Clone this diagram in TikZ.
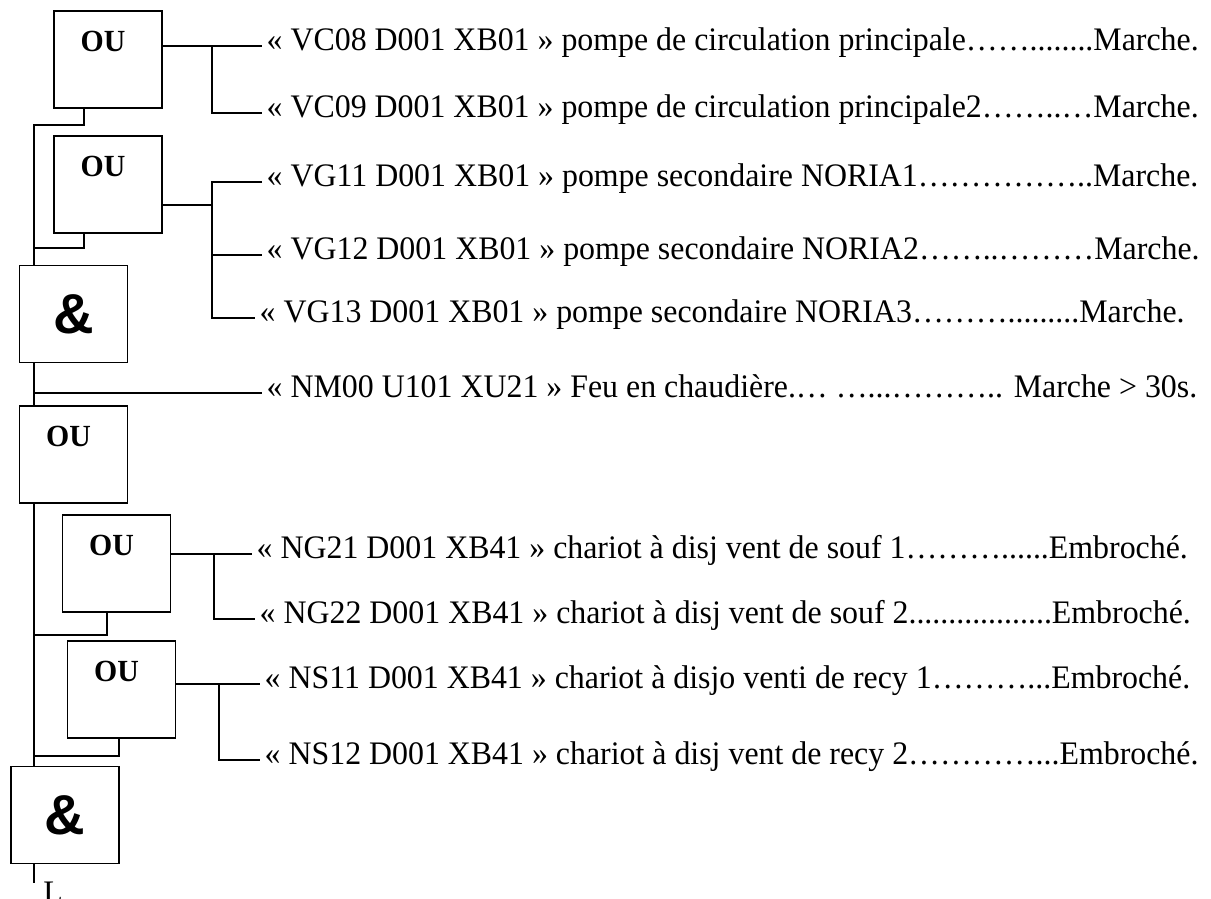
\documentclass[tikz,border=0pt]{standalone}
\usepackage{fontspec}
\setmainfont{Liberation Serif}[FakeStretch=0.97]
\newfontfamily\gatesans{Liberation Sans}
\usetikzlibrary{positioning}

\tikzset{
  gate/.style={draw, line width=1.1pt, minimum width=2.16cm, minimum height=1.94cm, inner sep=0pt},
  oulbl/.style={font=\fontsize{17.5}{20}\selectfont\bfseries, anchor=center, yshift=-0.62cm, xshift=-0.1cm},
  etlbl/.style={font=\gatesans\fontsize{32}{36}\selectfont\bfseries},
  sig/.style={anchor=west, inner xsep=2.5pt, inner ysep=0pt, text height=0.68em, text depth=0.22em, font=\fontsize{18.7}{22}\selectfont},
  wire/.style={line width=1.1pt},
}

\begin{document}
\begin{tikzpicture}[x=0.02cm, y=-0.02cm]
\useasboundingbox (0,0) rectangle (1211,899);
\coordinate (spine) at (34,0);

% gates
\node[gate, label={[oulbl]north:OU}] (ou1) at (108,59.5) {};
\node[gate, label={[oulbl]north:OU}] (ou2) at (108,184.5) {};
\node[gate, etlbl] (et1) at (73.5,314) {\&};
\node[gate, label={[oulbl]north:OU}] (ou3) at (73.5,454.5) {};
\node[gate, label={[oulbl]north:OU}] (ou4) at (116.5,563.5) {};
\node[gate, label={[oulbl]north:OU}] (ou5) at (121.5,689.5) {};
\node[gate, etlbl] (et2) at (65,815) {\&};

% signals
\node[sig] (sVC08) at (262,46) {« VC08 D001 XB01 » pompe de circulation principale……........Marche.};
\node[sig] (sVC09) at (262,113) {« VC09 D001 XB01 » pompe de circulation principale2……..…Marche.};
\node[sig] (sVG11) at (262,182) {« VG11 D001 XB01 » pompe secondaire NORIA1……………..Marche.};
\node[sig] (sVG12) at (262,255) {« VG12 D001 XB01 » pompe secondaire NORIA2……..………Marche.};
\node[sig] (sVG13) at (255,318) {« VG13 D001 XB01 » pompe secondaire NORIA3……….........Marche.};
\node[sig] (sNM00) at (262,393) {« NM00 U101 XU21 » Feu en chaudière.… …...……….. Marche > 30s.};
\node[sig] (sNG21) at (252,554) {« NG21 D001 XB41 » chariot à disj vent de souf 1………......Embroché.};
\node[sig] (sNG22) at (255,619) {« NG22 D001 XB41 » chariot à disj vent de souf 2..................Embroché.};
\node[sig] (sNS11) at (260,684) {« NS11 D001 XB41 » chariot à disjo venti de recy 1………...Embroché.};
\node[sig] (sNS12) at (260,760) {« NS12 D001 XB41 » chariot à disj vent de recy 2…………...Embroché.};
\node[anchor=north west, inner sep=0pt, font=\fontsize{18.7}{22}\selectfont] (sortie) at (43,882) {L};

% branches
\coordinate (b1) at (212,46);
\coordinate (b2) at (212,205);
\coordinate (b4) at (214,554);
\coordinate (b5) at (219,684);
\draw[wire] (ou1.east |- b1) -- (b1) -- (sVC08.west);
\draw[wire] (b1) |- (sVC09.west);
\draw[wire] (ou2.east |- b2) -- (b2);
\draw[wire] (sVG11.west) -| (b2) |- (sVG13.west);
\draw[wire] (b2 |- sVG12.west) -- (sVG12.west);
\draw[wire] (ou4.east |- b4) -- (b4) -- (sNG21.west);
\draw[wire] (b4) |- (sNG22.west);
\draw[wire] (ou5.east |- b5) -- (b5) -- (sNS11.west);
\draw[wire] (b5) |- (sNS12.west);

% taps to the spine
\coordinate (t1) at (84,125);
\coordinate (t2) at (84,248);
\coordinate (t4) at (107,635);
\coordinate (t5) at (119,756);
\coordinate (outL) at (34,883);
\draw[wire] (ou1.south -| t1) -- (t1) -- (spine |- t1) -- (et1.north -| spine);
\draw[wire] (ou2.south -| t2) -- (t2) -- (spine |- t2);
\draw[wire] (et1.south -| spine) -- (ou3.north -| spine);
\draw[wire] (spine |- sNM00.west) -- (sNM00.west);
\draw[wire] (ou3.south -| spine) -- (et2.north -| spine);
\draw[wire] (ou4.south -| t4) -- (t4) -- (spine |- t4);
\draw[wire] (ou5.south -| t5) -- (t5) -- (spine |- t5);
\draw[wire] (et2.south -| spine) -- (outL);
\end{tikzpicture}
\end{document}
